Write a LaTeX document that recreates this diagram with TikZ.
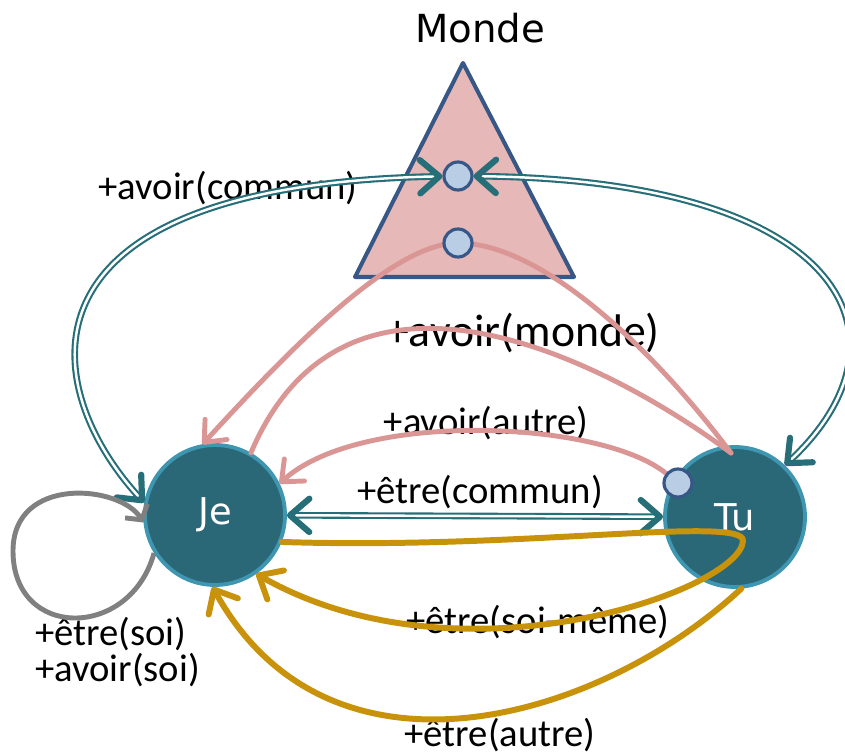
\documentclass[tikz,border=0pt]{standalone}
\usepackage{fontspec}
\setmainfont{Carlito}
\newfontfamily\verdfont{DejaVu Sans}
\usetikzlibrary{arrows.meta}

\definecolor{jefill}{RGB}{42,104,120}
\definecolor{jerim}{RGB}{62,150,176}
\definecolor{mondefill}{RGB}{230,184,183}
\definecolor{mondeline}{RGB}{55,87,135}
\definecolor{dotfill}{RGB}{185,205,229}
\definecolor{linkteal}{RGB}{38,110,120}
\definecolor{linkpink}{RGB}{218,150,148}
\definecolor{linkgold}{RGB}{200,146,10}

\pgfdeclarelayer{back}
\pgfdeclarelayer{mid}
\pgfsetlayers{back,mid,main}

\tikzset{
  person/.style={circle,draw=jerim,fill=jefill,line width=2.2pt,minimum size=2.8cm,
    text=white,font=\verdfont\fontsize{21}{25}\selectfont},
  spot/.style={circle,draw=mondeline,fill=dotfill,line width=1.8pt,minimum size=0.56cm,inner sep=0pt},
  lab/.style={font=\fontsize{22}{21}\selectfont,inner sep=1pt},
  commun/.style={draw=linkteal,double=white,double distance=1.4pt,line width=1.2pt,
    {Straight Barb[length=11pt,width=19pt,line width=3.5pt,round]}-{Straight Barb[length=11pt,width=19pt,line width=3.5pt,round]}},
  avoir/.style={draw=linkpink,line width=2.8pt,line cap=round},
  etre/.style={draw=linkgold,line width=3.4pt,line cap=round},
  soi/.style={draw=gray,line width=2.8pt}
}

\begin{document}
\begin{tikzpicture}[x=0.02cm,y=-0.02cm]
  \useasboundingbox (0,0) rectangle (845,756);
  \begin{pgfonlayer}{back}
  \draw[mondeline,fill=mondefill,line width=2.3pt,line join=round] (463,63) -- (574,277) -- (355,277) -- cycle;
  \node[person] (Je) at (215,515) {Je};
  \node[person] (Tu) at (735,517) {Tu};
  % textes
  \node[font=\verdfont\fontsize{22}{26}\selectfont] (L-0) at (480,28) {Monde};
  \node[lab] (L-1) at (228,188) {+avoir(commun)};
  \node[lab,font=\fontsize{26}{30}\selectfont] (L-2) at (523,333) {+avoir(monde)};
  \node[lab] (L-3) at (486,423) {+avoir(autre)};
  \node[lab] (L-4) at (480,492) {+être(commun)};
  \node[lab] (L-5) at (538,622) {+être(soi-même)};
  \node[lab] (L-6) at (500,735) {+être(autre)};
  \node[lab,align=left,anchor=west] (L-7) at (33,652) {+être(soi)\\+avoir(soi)};
  \end{pgfonlayer}
  \node[spot] (M-1) at (458,176) {};
  \node[spot] (M-2) at (458,243) {};
  \node[spot] (T-1) at (678,483) {};
  \coordinate (T-2) at (731,453);
  \coordinate (T-3) at (743,541);
  \begin{pgfonlayer}{mid}
  \draw[commun] (M-1) .. controls (0,185) and (40,390) .. (Je.170);
  \draw[commun] (M-1) .. controls (850,180) and (920,340) .. (Tu.46);
  \draw[commun] (Je) -- (Tu);
  \draw[avoir,-{Straight Barb[length=10pt,width=17pt,round]}] (T-2) .. controls (650,345) and (540,243) .. (M-2.center)
    .. controls (390,243) and (280,360) .. (Je.100);
  \draw[avoir] (T-2) .. controls (620,370) and (350,220) .. (Je.60);
  \draw[avoir,-{Straight Barb[length=10pt,width=17pt,round]}] (T-1) .. controls (600,420) and (360,410) .. (Je.26);
  \draw[etre,-{Straight Barb[length=11pt,width=19pt,round]}] (Je.338) .. controls (520,550) and (745,515) .. (T-3)
    .. controls (740,590) and (460,690) .. (Je.305);
  \draw[etre,-{Straight Barb[length=11pt,width=19pt,round]}] (Tu.275) .. controls (600,720) and (330,800) .. (Je.268);
  \draw[soi,-{Straight Barb[length=6pt,width=15pt]}] (Je.212) .. controls (130,640) and (13,640) .. (13,551)
    .. controls (13,475) and (120,485) .. (Je.186);
  \end{pgfonlayer}
\end{tikzpicture}
\end{document}
